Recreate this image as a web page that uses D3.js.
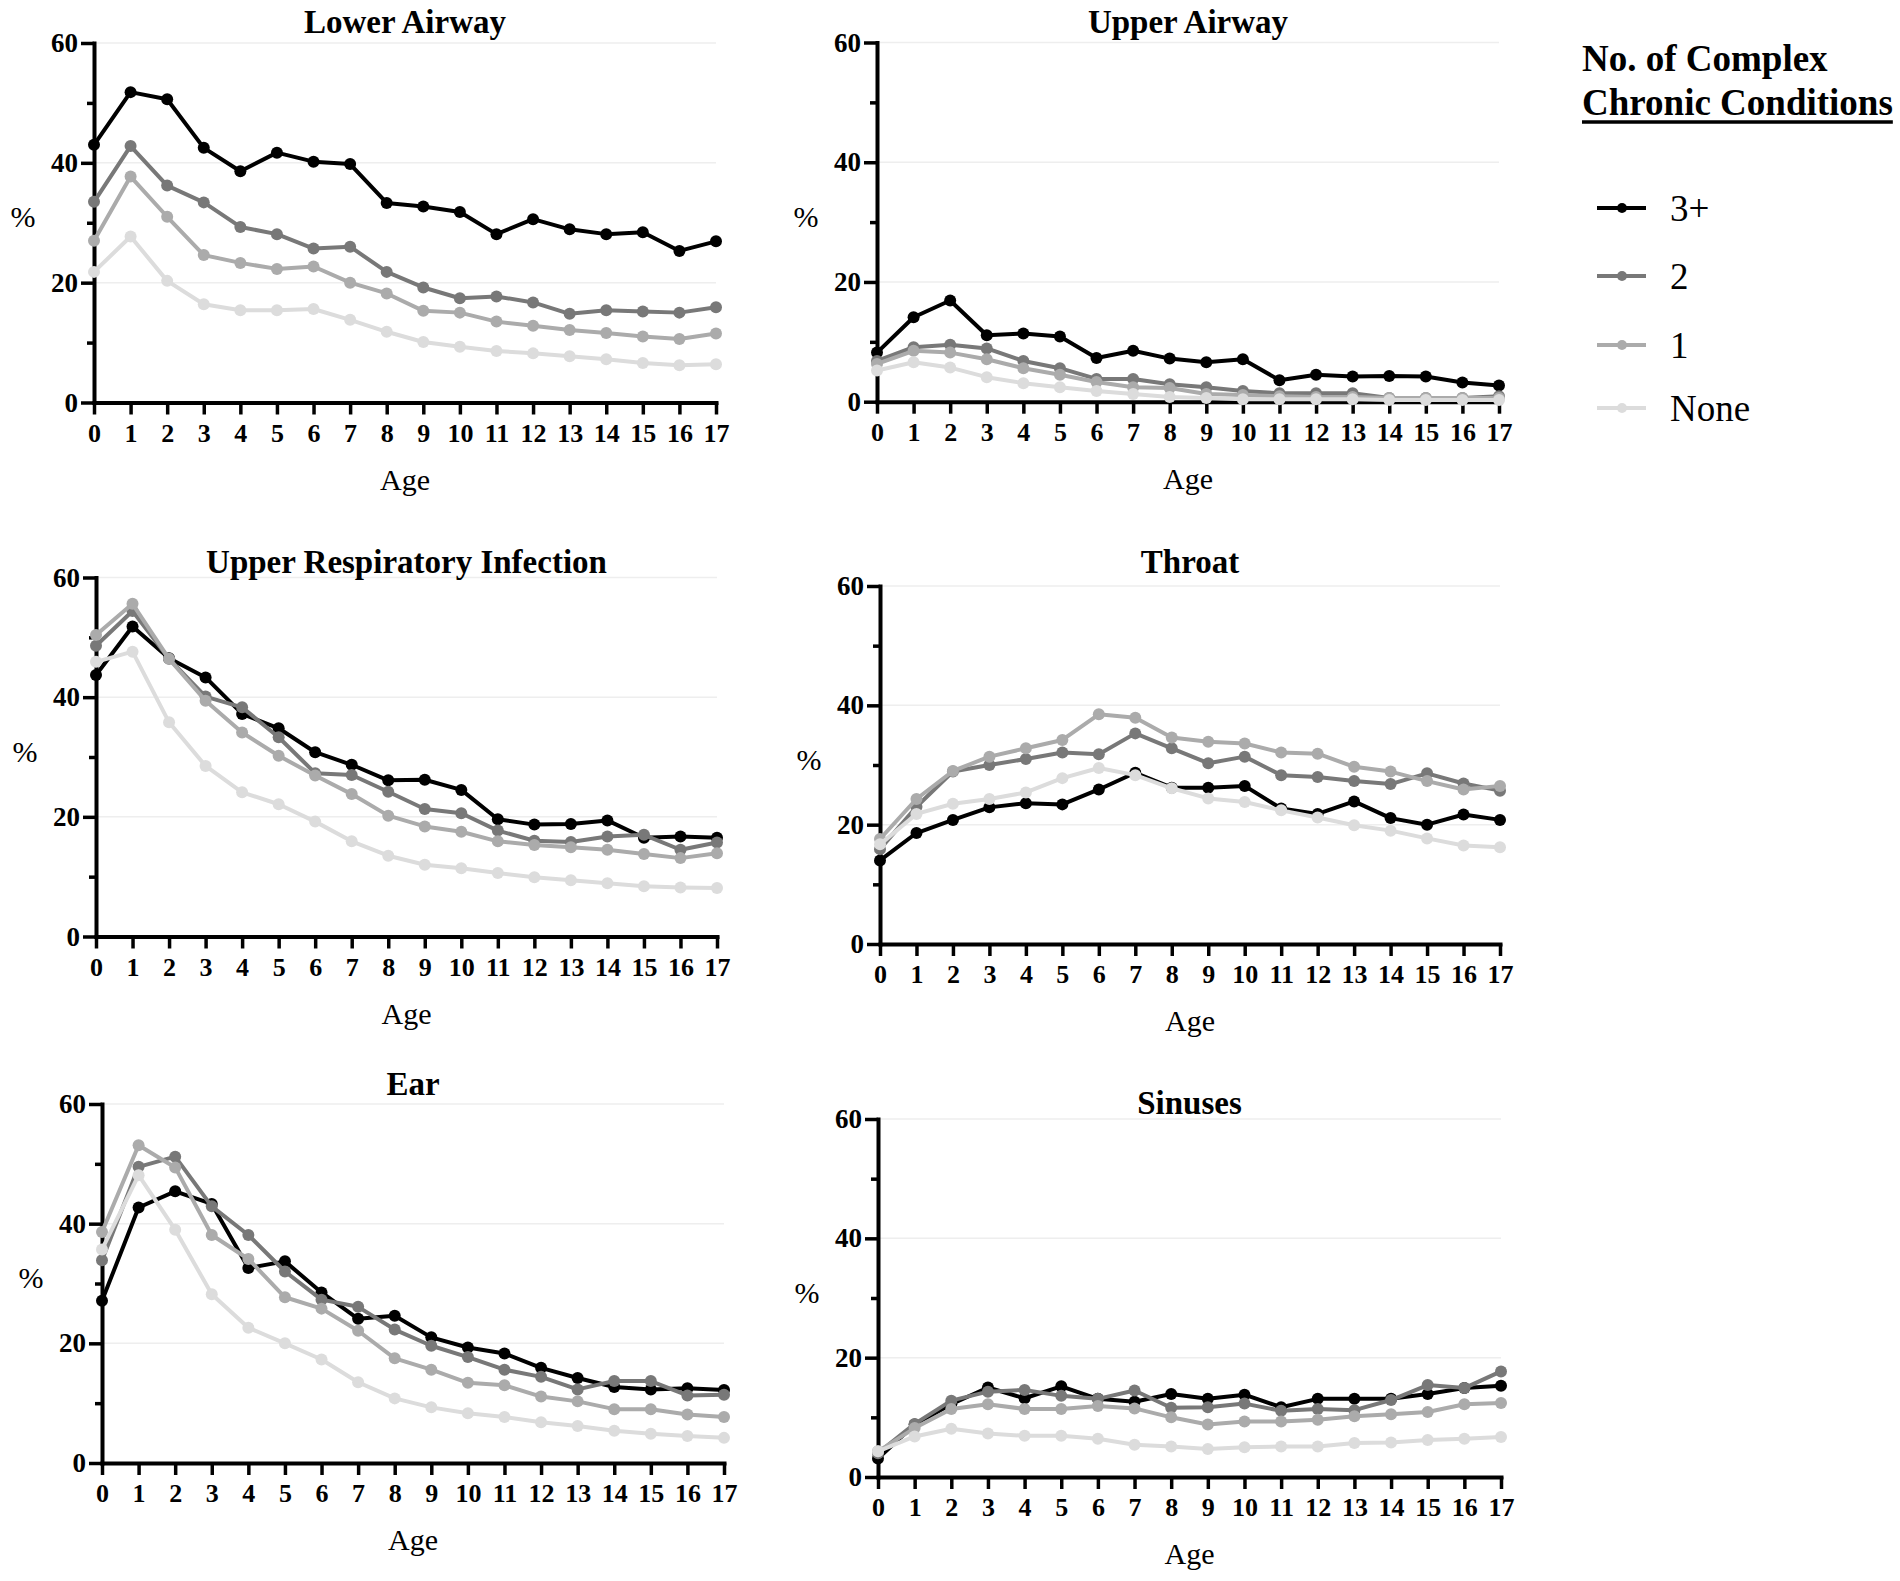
<!DOCTYPE html>
<html>
<head>
<meta charset="utf-8">
<script src="https://cdn.jsdelivr.net/npm/d3@7"></script>
<style>
  html, body { margin: 0; padding: 0; background: #fff; }
  svg { display: block; }
  text { font-family: "Liberation Serif", "Times New Roman", "DejaVu Serif", serif; fill: #000; }
</style>
</head>
<body>
<svg id="chart" width="1900" height="1581"></svg>
<script>
// ---------- data ----------
const ages = [0, 1, 2, 3, 4, 5, 6, 7, 8, 9, 10, 11, 12, 13, 14, 15, 16, 17];
const seriesNames = ["3+", "2", "1", "None"];
const yTickValues = [0, 20, 40, 60];
const yMinorTickValues = [10, 30, 50];
const panelTitles = ["Lower Airway", "Upper Airway", "Upper Respiratory Infection", "Throat", "Ear", "Sinuses"];
const legendTitleLines = ["No. of Complex", "Chronic Conditions"];
const xAxisLabel = "Age";
const yAxisLabel = "%";

// each panel: [3+, 2, 1, None]
const lowerAirway = [
  [43.0, 51.8, 50.6, 42.5, 38.6, 41.7, 40.2, 39.8, 33.3, 32.7, 31.8, 28.1, 30.6, 28.9, 28.1, 28.4, 25.3, 26.9],
  [33.5, 42.8, 36.2, 33.4, 29.3, 28.1, 25.7, 26.0, 21.8, 19.2, 17.4, 17.7, 16.7, 14.8, 15.4, 15.2, 15.0, 15.9],
  [27.0, 37.7, 31.0, 24.6, 23.3, 22.3, 22.7, 20.0, 18.2, 15.3, 15.0, 13.5, 12.8, 12.1, 11.6, 11.0, 10.6, 11.5],
  [21.8, 27.7, 20.3, 16.4, 15.4, 15.4, 15.6, 13.8, 11.8, 10.1, 9.3, 8.6, 8.2, 7.7, 7.2, 6.6, 6.2, 6.4]
];
const upperAirway = [
  [8.2, 14.1, 16.9, 11.1, 11.4, 10.9, 7.3, 8.5, 7.2, 6.6, 7.1, 3.6, 4.5, 4.2, 4.3, 4.2, 3.2, 2.7],
  [6.8, 9.1, 9.5, 8.9, 6.8, 5.6, 3.8, 3.8, 2.9, 2.4, 1.8, 1.4, 1.4, 1.4, 0.6, 0.6, 0.6, 0.9],
  [6.3, 8.5, 8.2, 7.1, 5.6, 4.5, 3.3, 2.4, 2.3, 1.3, 1.1, 0.9, 0.8, 0.8, 0.6, 0.6, 0.6, 0.6],
  [5.2, 6.6, 5.7, 4.1, 3.1, 2.4, 1.8, 1.3, 0.8, 0.6, 0.4, 0.4, 0.4, 0.4, 0.3, 0.3, 0.3, 0.3]
];
const upperRespiratoryInfection = [
  [43.7, 51.8, 46.5, 43.3, 37.2, 34.8, 30.8, 28.7, 26.1, 26.2, 24.5, 19.6, 18.7, 18.8, 19.4, 16.5, 16.7, 16.5],
  [48.6, 54.4, 46.4, 40.1, 38.3, 33.3, 27.3, 27.0, 24.2, 21.3, 20.6, 17.7, 16.0, 15.8, 16.7, 17.0, 14.5, 15.7],
  [50.4, 55.6, 46.4, 39.4, 34.1, 30.2, 26.9, 23.8, 20.2, 18.4, 17.5, 15.9, 15.3, 14.9, 14.5, 13.8, 13.1, 13.9],
  [45.9, 47.6, 35.8, 28.5, 24.1, 22.1, 19.2, 15.9, 13.5, 12.0, 11.4, 10.6, 9.9, 9.4, 8.9, 8.4, 8.2, 8.1]
];
const throat = [
  [14.0, 18.6, 20.8, 22.9, 23.6, 23.4, 25.9, 28.7, 26.2, 26.2, 26.5, 22.7, 21.8, 23.9, 21.1, 20.0, 21.7, 20.8],
  [15.9, 23.0, 28.9, 30.0, 31.0, 32.1, 31.8, 35.3, 32.8, 30.3, 31.4, 28.3, 28.0, 27.3, 26.8, 28.6, 26.9, 25.7],
  [17.6, 24.3, 29.0, 31.4, 32.8, 34.2, 38.5, 37.9, 34.6, 33.9, 33.6, 32.1, 31.9, 29.7, 28.9, 27.3, 25.9, 26.5],
  [16.7, 21.8, 23.5, 24.3, 25.4, 27.8, 29.5, 28.3, 26.1, 24.4, 23.8, 22.4, 21.2, 19.9, 19.0, 17.7, 16.5, 16.2]
];
const ear = [
  [27.1, 42.7, 45.4, 43.3, 32.6, 33.7, 28.5, 24.1, 24.6, 21.0, 19.3, 18.3, 15.9, 14.2, 12.7, 12.3, 12.5, 12.2],
  [33.9, 49.5, 51.2, 42.9, 38.1, 32.0, 27.3, 26.1, 22.3, 19.6, 17.7, 15.6, 14.4, 12.3, 13.7, 13.7, 11.3, 11.4],
  [38.6, 53.1, 49.4, 38.1, 34.1, 27.7, 25.8, 22.1, 17.5, 15.6, 13.4, 13.0, 11.1, 10.3, 9.0, 9.0, 8.1, 7.7],
  [35.7, 48.1, 39.0, 28.2, 22.6, 20.0, 17.3, 13.5, 10.8, 9.3, 8.3, 7.7, 6.8, 6.2, 5.4, 4.9, 4.5, 4.2]
];
const sinuses = [
  [3.1, 8.8, 12.2, 15.0, 13.2, 15.2, 13.1, 12.6, 13.9, 13.1, 13.8, 11.7, 13.1, 13.1, 13.1, 13.9, 14.9, 15.3],
  [4.0, 8.9, 12.8, 14.3, 14.6, 13.6, 13.1, 14.5, 11.6, 11.7, 12.3, 11.1, 11.4, 11.2, 12.9, 15.4, 14.9, 17.7],
  [4.3, 8.2, 11.4, 12.2, 11.4, 11.4, 11.9, 11.5, 10.0, 8.8, 9.3, 9.3, 9.6, 10.2, 10.5, 10.9, 12.2, 12.4],
  [4.3, 6.8, 8.1, 7.3, 6.9, 6.9, 6.4, 5.4, 5.1, 4.7, 5.0, 5.1, 5.1, 5.7, 5.8, 6.2, 6.4, 6.7]
];
const panelData = [lowerAirway, upperAirway, upperRespiratoryInfection, throat, ear, sinuses];

// ---------- styles & layout ----------
const seriesColors = ["#000000", "#787878", "#ababab", "#dcdcdc"];
const serifFont = "'Liberation Serif', 'Times New Roman', serif";
const layout = [
  { x0: 94,  x1: 716,  yTop: 43,    yBot: 402.5, titleY: 33 },
  { x0: 877, x1: 1499, yTop: 42.5,  yBot: 401.7, titleY: 33 },
  { x0: 96,  x1: 717,  yTop: 577.5, yBot: 936.5, titleY: 573 },
  { x0: 880, x1: 1500, yTop: 586,   yBot: 944,   titleY: 573 },
  { x0: 102, x1: 724,  yTop: 1104,  yBot: 1463,  titleY: 1095 },
  { x0: 878, x1: 1501, yTop: 1119,  yBot: 1477,  titleY: 1114 }
];

const svg = d3.select("#chart");
svg.append("rect").attr("width", 1900).attr("height", 1581).attr("fill", "#fff");

panelData.forEach((series, p) => {
  const L = layout[p];
  const g = svg.append("g");
  const x = d3.scaleLinear().domain([0, 17]).range([L.x0, L.x1]);
  const y = d3.scaleLinear().domain([0, 60]).range([L.yBot, L.yTop]);

  // faint gridlines
  g.append("g").selectAll("line").data(yTickValues.filter(v => v > 0)).join("line")
    .attr("x1", L.x0).attr("x2", L.x1)
    .attr("y1", d => y(d)).attr("y2", d => y(d))
    .attr("stroke", "#eeeeee").attr("stroke-width", 1.5);

  // title
  g.append("text")
    .attr("x", (L.x0 + L.x1) / 2).attr("y", L.titleY)
    .attr("text-anchor", "middle")
    .style("font-family", serifFont)
    .style("font-size", "33px").style("font-weight", "bold")
    .text(panelTitles[p]);

  // y axis (minor ticks)
  const yMinor = g.append("g").attr("transform", `translate(${L.x0},0)`)
    .call(d3.axisLeft(y).tickValues(yMinorTickValues).tickSize(7).tickSizeOuter(0).tickFormat(""));
  yMinor.select(".domain").remove();
  yMinor.selectAll(".tick line").attr("stroke", "#000").attr("stroke-width", 3.5);

  // y axis (major)
  const yAx = g.append("g").attr("transform", `translate(${L.x0},0)`)
    .attr("font-family", serifFont)
    .call(d3.axisLeft(y).tickValues(yTickValues).tickSize(13).tickSizeOuter(0).tickPadding(3));
  yAx.attr("font-family", serifFont);
  yAx.select(".domain").attr("stroke", "#000").attr("stroke-width", 4).attr("stroke-linecap", "square");
  yAx.selectAll(".tick line").attr("stroke", "#000").attr("stroke-width", 3.5);
  yAx.selectAll(".tick text")
    .style("font-family", serifFont)
    .style("font-size", "27px").style("font-weight", "bold").attr("fill", "#000");

  // x axis
  const xAx = g.append("g").attr("transform", `translate(0,${L.yBot})`)
    .call(d3.axisBottom(x).tickValues(ages).tickSize(12).tickSizeOuter(0).tickPadding(9).tickFormat(d3.format("d")));
  xAx.attr("font-family", serifFont);
  xAx.select(".domain").attr("stroke", "#000").attr("stroke-width", 4).attr("stroke-linecap", "square");
  xAx.selectAll(".tick line").attr("stroke", "#000").attr("stroke-width", 3.5);
  xAx.selectAll(".tick text")
    .style("font-family", serifFont)
    .style("font-size", "26px").style("font-weight", "bold").attr("fill", "#000");

  // axis labels
  g.append("text")
    .attr("x", (L.x0 + L.x1) / 2).attr("y", L.yBot + 87)
    .attr("text-anchor", "middle")
    .style("font-family", serifFont).style("font-size", "30px")
    .text(xAxisLabel);
  g.append("text")
    .attr("x", L.x0 - 71).attr("y", (L.yTop + L.yBot) / 2 - 6)
    .attr("dy", "0.35em")
    .attr("text-anchor", "middle")
    .style("font-family", serifFont).style("font-size", "30px")
    .text(yAxisLabel);

  // series lines & markers
  const line = d3.line().x((d, i) => x(ages[i])).y(d => y(d));
  series.forEach((vals, s) => {
    const sg = g.append("g");
    sg.append("path").datum(vals)
      .attr("d", line)
      .attr("fill", "none")
      .attr("stroke", seriesColors[s])
      .attr("stroke-width", 4)
      .attr("stroke-linejoin", "round");
    sg.selectAll("circle").data(vals).join("circle")
      .attr("cx", (d, i) => x(ages[i]))
      .attr("cy", d => y(d))
      .attr("r", 6)
      .attr("fill", seriesColors[s]);
  });
});

// ---------- legend ----------
const lg = svg.append("g");
const legendX = 1582;
const titleBaselines = [71, 115];
legendTitleLines.forEach((t, i) => {
  const txt = lg.append("text")
    .attr("x", legendX).attr("y", titleBaselines[i])
    .style("font-family", serifFont)
    .style("font-size", "37px").style("font-weight", "bold")
    .text(t);
  if (i === 1) {
    const w = txt.node().getComputedTextLength();
    lg.append("line")
      .attr("x1", legendX).attr("x2", legendX + w)
      .attr("y1", 122).attr("y2", 122)
      .attr("stroke", "#000").attr("stroke-width", 3.5);
  }
});
const legendRowY = [208, 276, 345, 408];
seriesNames.forEach((name, i) => {
  const yy = legendRowY[i];
  lg.append("line")
    .attr("x1", 1597).attr("x2", 1646)
    .attr("y1", yy).attr("y2", yy)
    .attr("stroke", seriesColors[i]).attr("stroke-width", 4);
  lg.append("circle")
    .attr("cx", 1622).attr("cy", yy).attr("r", 5)
    .attr("fill", seriesColors[i]);
  lg.append("text")
    .attr("x", 1670).attr("y", yy).attr("dy", "0.35em")
    .style("font-family", serifFont)
    .style("font-size", "37px")
    .text(name);
});
</script>
</body>
</html>
